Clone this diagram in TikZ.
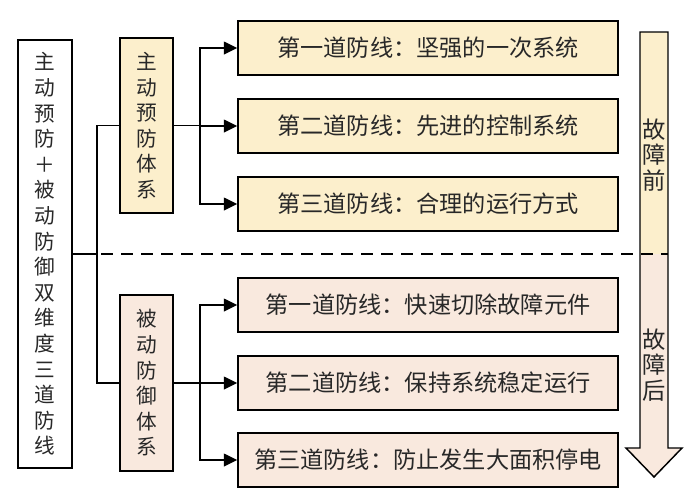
\documentclass[tikz,border=0pt]{standalone}
\usepackage{fontspec}
\setmainfont{Noto Sans CJK SC}
\usetikzlibrary{arrows.meta}
\definecolor{preFill}{RGB}{252,239,204}
\definecolor{postFill}{RGB}{249,233,222}
\definecolor{txtGray}{RGB}{40,40,40}

\begin{document}
\begin{tikzpicture}[x=0.75pt,y=0.75pt,>={Triangle[length=10pt,width=9.5pt]},
  every node/.style={text=txtGray},
  box/.style={draw=black,line width=1.1pt,inner sep=0pt},
  colbox/.style={box,align=center,font=\fontsize{15.5}{19.2}\selectfont},
  linebox/.style={box,minimum width=285pt,minimum height=40.5pt,font=\fontsize{17.4}{20}\selectfont},
  link/.style={line width=1.1pt}]
  \useasboundingbox (0,0) rectangle (693,-501);
  % left column
  \node[colbox,fill=white,minimum width=40.5pt,minimum height=321pt] (main) at (45,-254)
    {主\\动\\预\\防\\＋\\被\\动\\防\\御\\双\\维\\度\\三\\道\\防\\线};
  \node[colbox,fill=preFill,minimum width=40pt,minimum height=131pt] (sysA) at (146.5,-125.5)
    {主\\动\\预\\防\\体\\系};
  \node[colbox,fill=postFill,minimum width=40pt,minimum height=132pt] (sysB) at (146.5,-383)
    {被\\动\\防\\御\\体\\系};
  % defence lines
  \node[linebox,fill=preFill] (lineA1) at (428,-48) {第一道防线：坚强的一次系统};
  \node[linebox,fill=preFill] (lineA2) at (428,-126) {第二道防线：先进的控制系统};
  \node[linebox,fill=preFill] (lineA3) at (428,-204) {第三道防线：合理的运行方式};
  \node[linebox,fill=postFill] (lineB1) at (428,-305) {第一道防线：快速切除故障元件};
  \node[linebox,fill=postFill] (lineB2) at (428,-383) {第二道防线：保持系统稳定运行};
  \node[linebox,fill=postFill] (lineB3) at (428,-460) {第三道防线：防止发生大面积停电};
  % time arrow
  \fill[preFill] (640,-32) rectangle (668,-254);
  \fill[postFill] (640,-254) -- (668,-254) -- (668,-448) -- (682,-448) -- (654,-477)
    -- (626,-448) -- (640,-448) -- cycle;
  \draw[line width=1.1pt,line join=miter] (640,-32) -- (668,-32) -- (668,-448) -- (682,-448)
    -- (654,-477) -- (626,-448) -- (640,-448) -- cycle;
  \node[align=center,font=\fontsize{17.5}{19}\selectfont] (before) at (654,-155) {故\\障\\前};
  \node[align=center,font=\fontsize{17.5}{19}\selectfont] (after) at (654,-365) {故\\障\\后};
  % connectors
  \coordinate (j) at (97,-254);
  \coordinate (dEnd) at (668,-254);
  \draw[link] (main.east|-j) -- (j);
  \draw[link,dash pattern=on 9pt off 6pt] (j) ++(4,0) -- (dEnd);
  \draw[link] (sysA.west) -| (j) |- (sysB.west);
  \draw[link] (sysA.east) -- ++(26,0) coordinate (bA);
  \draw[link] (sysB.east) -- ++(26,0) coordinate (bB);
  \foreach \n in {1,2,3} {
    \draw[link,->] (bA) |- (lineA\n.west);
    \draw[link,->] (bB) |- (lineB\n.west);
  }
\end{tikzpicture}
\end{document}
